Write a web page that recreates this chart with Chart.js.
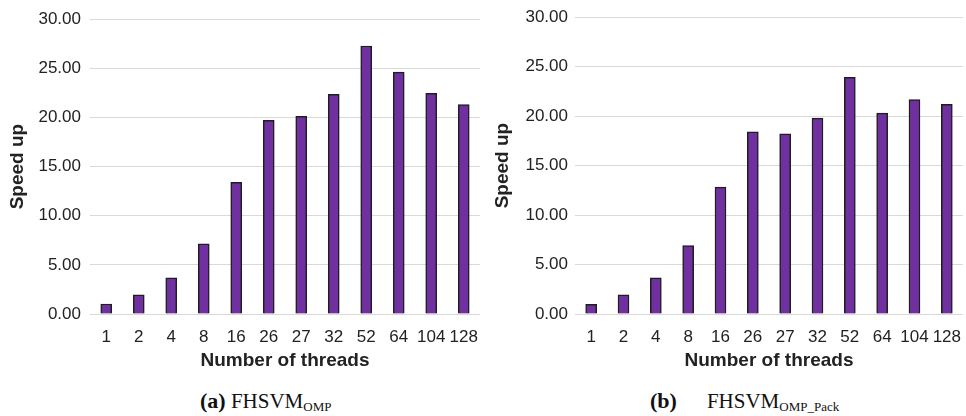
<!DOCTYPE html>
<html>
<head>
<meta charset="utf-8">
<script src="https://cdn.jsdelivr.net/npm/chart.js@4.4.1/dist/chart.umd.min.js"></script>
<style>
  body { margin: 0; background: #fff; width: 966px; height: 416px; position: relative; overflow: hidden; }
  .box { position: absolute; top: 0; width: 483px; height: 380px; }
  .cap { position: absolute; top: 389px; line-height: 24px; font-family: 'Liberation Serif', 'DejaVu Serif', serif; font-size: 21px; color: #111; white-space: nowrap; }
  .cap b { font-size: 22px; }
  .cap sub { font-size: 13px; vertical-align: -3px; line-height: 0; }
</style>
</head>
<body>
<div class="box" style="left:0"><canvas id="chartA"></canvas></div>
<div class="box" style="left:483px"><canvas id="chartB"></canvas></div>
<div class="cap" style="left:200px"><b>(a)</b>&nbsp;FHSVM<sub>OMP</sub></div>
<div class="cap" style="left:650px"><b>(b)</b><span style="display:inline-block;width:30px"></span>FHSVM<sub>OMP_Pack</sub></div>
<script>
// data
const threads = ['1', '2', '4', '8', '16', '26', '27', '32', '52', '64', '104', '128']
const speedupOmp = [1.02, 1.96, 3.69, 7.14, 13.41, 19.71, 20.12, 22.36, 27.27, 24.62, 22.46, 21.30]
const speedupOmpPack = [0.98, 1.93, 3.66, 6.92, 12.82, 18.41, 18.21, 19.80, 23.91, 20.31, 21.67, 21.19]
const yTicks = [0, 5, 10, 15, 20, 25, 30]

Chart.defaults.font.family = "'Liberation Sans', Arial, sans-serif"
Chart.defaults.color = '#222'

function makeChart(id, values, yWidth, rightPad, tickPad, titlePad) {
  const ctx = document.getElementById(id)
  return new Chart(ctx, {
    type: 'bar',
    data: {
      labels: threads,
      datasets: [{
        label: 'Speed up',
        data: values,
        backgroundColor: '#7030a0',
        borderColor: '#1e1e1e',
        borderWidth: 1.5,
        barThickness: 11
      }]
    },
    options: {
      responsive: true,
      maintainAspectRatio: false,
      animation: false,
      layout: { padding: { top: 10, right: rightPad, bottom: 0, left: 0 } },
      plugins: { legend: { display: false }, tooltip: { enabled: false } },
      scales: {
        x: {
          grid: { display: false },
          border: { display: false },
          ticks: { font: { size: 17 }, padding: 5, autoSkip: false, maxRotation: 0 },
          title: { display: true, text: 'Number of threads', font: { size: 19, weight: 'bold' }, padding: { top: 0, bottom: 8 } },
          afterFit: (scale) => { scale.height = 66 }
        },
        y: {
          min: 0,
          max: 30,
          afterBuildTicks: (scale) => { scale.ticks = yTicks.map(v => ({ value: v })) },
          grid: { color: '#d9d9d9', lineWidth: 1, drawTicks: false },
          border: { display: false },
          ticks: { font: { size: 17 }, padding: tickPad, callback: (v) => Number(v).toFixed(2) },
          title: { display: true, text: 'Speed up', font: { size: 19, weight: 'bold' }, padding: { top: titlePad, bottom: 0 } },
          afterFit: (scale) => { scale.width = yWidth }
        }
      }
    }
  })
}

makeChart('chartA', speedupOmp, 90, 2, 9, 6)
makeChart('chartB', speedupOmpPack, 92, 0, 7, 8)
</script>
</body>
</html>
